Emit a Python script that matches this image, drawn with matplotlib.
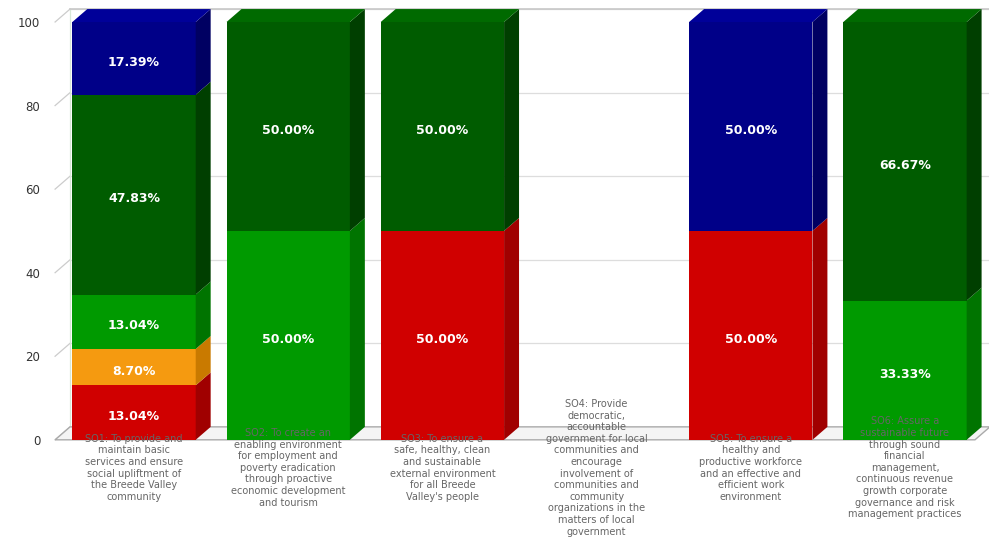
import numpy as np
import matplotlib
matplotlib.use('Agg')
import matplotlib.pyplot as plt
from matplotlib.patches import Polygon, Rectangle

# categories (x axis)
categories = [
    "SO1: To provide and\nmaintain basic\nservices and ensure\nsocial upliftment of\nthe Breede Valley\ncommunity",
    "SO2: To create an\nenabling environment\nfor employment and\npoverty eradication\nthrough proactive\neconomic development\nand tourism",
    "SO3: To ensure a\nsafe, healthy, clean\nand sustainable\nexternal environment\nfor all Breede\nValley's people",
    "SO4: Provide\ndemocratic,\naccountable\ngovernment for local\ncommunities and\nencourage\ninvolvement of\ncommunities and\ncommunity\norganizations in the\nmatters of local\ngovernment",
    "SO5: To ensure a\nhealthy and\nproductive workforce\nand an effective and\nefficient work\nenvironment",
    "SO6: Assure a\nsustainable future\nthrough sound\nfinancial\nmanagement,\ncontinuous revenue\ngrowth corporate\ngovernance and risk\nmanagement practices",
]

# stacked series, percent of KPIs (bottom to top)
not_met = [13.04, 0, 50.00, 0, 50.00, 0]
almost_met = [8.70, 0, 0, 0, 0, 0]
met = [13.04, 50.00, 0, 0, 0, 33.33]
well_met = [47.83, 50.00, 50.00, 0, 0, 66.67]
extremely_well_met = [17.39, 0, 0, 0, 50.00, 0]

series = [not_met, almost_met, met, well_met, extremely_well_met]
# front, side, top colours
colors = [
    ('#d00000', '#a00000', '#e01010'),
    ('#f59a10', '#c97a00', '#f8ab30'),
    ('#009a00', '#007400', '#10a810'),
    ('#005c00', '#003f00', '#006a00'),
    ('#000088', '#000062', '#000099'),
]

y_ticks = [0, 20, 40, 60, 80, 100]

fig = plt.figure(figsize=(9.89, 5.44), dpi=100)
ax = fig.add_axes([50 / 989, 1 - 444 / 544, 939 / 989, (444 - 5.3) / 544])

x = np.arange(len(categories))
w = 0.80          # bar width
dx = 0.097        # depth in x (data units)
dy = 3.1          # depth in y (data units)
xl, xr = -0.512, 5.454

ax.set_xlim(-0.545, 5.545)
ax.set_ylim(-1, 104)

# back wall grid + left wall diagonals
for v in y_ticks:
    ax.plot([xl + dx, xr + dx], [v + dy, v + dy], color='#dddddd', lw=0.9, zorder=1)
    ax.plot([xl, xl + dx], [v, v + dy], color='#cccccc', lw=0.9, zorder=1)
ax.plot([xl + dx, xl + dx], [dy, 100 + dy], color='#d8e8d8', lw=0.9, zorder=1)
ax.plot([xl + dx, xr + dx], [100 + dy, 100 + dy], color='#c8c8c8', lw=1.2, zorder=1)

# floor
floor = Polygon([[xl, 0], [xr, 0], [xr + dx, dy], [xl + dx, dy]], closed=True,
                facecolor='#f4f4f4', edgecolor='#aaaaaa', lw=1.0, zorder=1)
ax.add_patch(floor)

# 3d stacked bars
bottom = np.zeros(len(categories))
for k, vals in enumerate(series):
    front, side, top = colors[k]
    vals = np.array(vals)
    for i in range(len(categories)):
        h = vals[i]
        if h <= 0:
            continue
        b = bottom[i]
        x0 = x[i] - w / 2
        x1 = x[i] + w / 2
        ax.add_patch(Rectangle((x0, b), w, h, facecolor=front, edgecolor='none', zorder=3))
        ax.add_patch(Polygon([[x1, b], [x1 + dx, b + dy], [x1 + dx, b + h + dy], [x1, b + h]],
                             closed=True, facecolor=side, edgecolor='none', zorder=3))
        # top face only on the highest segment
        if abs(b + h - 100) < 0.05:
            ax.add_patch(Polygon([[x0, b + h], [x1, b + h], [x1 + dx, b + h + dy], [x0 + dx, b + h + dy]],
                                 closed=True, facecolor=top, edgecolor='none', zorder=3))
        ax.text(x[i], b + h / 2 - 1, '%.2f%%' % h, color='white', fontsize=9, fontweight='bold',
                ha='center', va='center', zorder=5)
    bottom = bottom + vals

# category labels under the bars
for i, lab in enumerate(categories):
    ax.text(x[i], -6.7, lab, fontsize=7, color='#666666', ha='center', va='center',
            linespacing=1.2, clip_on=False, zorder=4)

ax.set_yticks(y_ticks)
ax.set_yticklabels([str(v) for v in y_ticks], fontsize=8.5, color='#333333')
ax.tick_params(axis='y', length=0, pad=7)
ax.set_xticks([])
for s in ax.spines.values():
    s.set_visible(False)

fig.savefig('out.png', dpi=100)
